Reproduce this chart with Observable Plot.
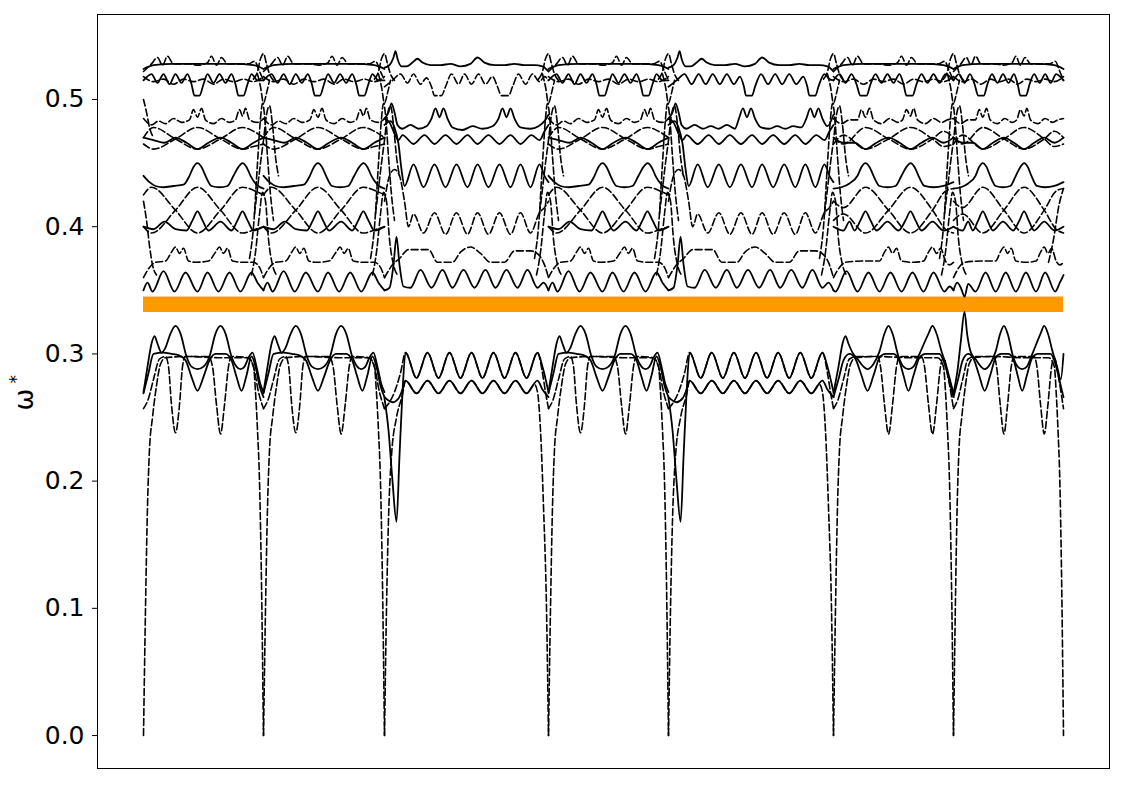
<!DOCTYPE html>
<html><head><meta charset="utf-8">
<script src="https://cdn.jsdelivr.net/npm/d3@7"></script>
<script src="https://cdn.jsdelivr.net/npm/@observablehq/plot@0.6"></script>
<style>body{margin:0;background:#fff}</style>
</head><body><div id="chart"></div>
<script>
// high-symmetry positions along the path (arbitrary path units)
const kPoints = [0, 120, 241, 405, 525, 690, 810, 920];
const segTemplates = ["A", "A", "C", "A", "E", "F", "G"];
const yTicks = [0, 0.1, 0.2, 0.3, 0.4, 0.5];
const orangeLevel = 0.339;

// ---- template A (segments 1, 2, 4), local path units 0..120 ----
const A_b0 = [[0,0],[2,0.1],[4,0.18],[6,0.225],[9,0.25],[13,0.275],[17,0.292],[22,0.297],[45,0.298],[75,0.297],[104,0.297],[110,0.29],[112,0.27],[114,0.24],[116,0.2],[118,0.12],[120,0]];
const A_b1 = [[0,0.257],[5,0.265],[10,0.28],[16,0.296],[22,0.298],[25,0.29],[28,0.26],[32,0.238],[36,0.26],[39,0.29],[42,0.298],[65,0.298],[69,0.29],[73,0.26],[77,0.237],[81,0.26],[85,0.29],[88,0.298],[105,0.297],[110,0.29],[115,0.27],[120,0.257]];
const A_b2 = [[0,0.269],[5,0.285],[10,0.3],[20,0.301],[28,0.3],[35,0.299],[42,0.295],[48,0.282],[54,0.271],[60,0.282],[66,0.295],[72,0.3],[82,0.3],[88,0.295],[93,0.282],[98,0.271],[103,0.283],[108,0.298],[112,0.29],[116,0.275],[120,0.266]];
const A_b3 = [[0,0.27],[4,0.29],[8,0.308],[11,0.314],[14,0.308],[18,0.301],[22,0.305],[27,0.316],[32,0.322],[37,0.316],[43,0.298],[48,0.29],[54,0.288],[60,0.29],[66,0.298],[72,0.316],[77,0.322],[82,0.316],[88,0.298],[93,0.29],[97,0.288],[101,0.29],[105,0.297],[109,0.301],[113,0.29],[117,0.276],[120,0.27]];
const A_b4 = [[0,0.35],[4,0.356],[9,0.349],[20,0.365],[31,0.349],[42,0.364],[54,0.349],[64,0.364],[75,0.349],[86,0.364],[97,0.349],[108,0.364],[114,0.356],[120,0.35]];
const A_b5 = [[0,0.36],[6,0.368],[12,0.372],[22,0.373],[28,0.38],[32,0.384],[36,0.379],[40,0.383],[45,0.373],[52,0.372],[65,0.373],[72,0.38],[76,0.384],[80,0.379],[84,0.383],[89,0.373],[100,0.372],[110,0.372],[116,0.368],[120,0.36]];
const A_b7 = [[0,0.4],[10,0.398],[21,0.404],[32,0.398],[43,0.397],[49,0.405],[54,0.412],[59,0.405],[65,0.397],[77,0.404],[88,0.397],[94,0.405],[99,0.412],[104,0.405],[110,0.397],[120,0.4]];
const A_b8a = [[0,0.425],[8,0.431],[32,0.413],[54,0.395],[77,0.413],[99,0.431],[112,0.428],[120,0.425]];
const A_b8b = [[0,0.4],[8,0.395],[32,0.413],[54,0.431],[77,0.413],[99,0.395],[112,0.398],[120,0.4]];
const A_b9 = [[0,0.44],[6,0.435],[12,0.432],[20,0.431],[30,0.432],[40,0.433],[46,0.44],[50,0.447],[54,0.45],[58,0.447],[62,0.44],[68,0.432],[76,0.431],[84,0.432],[90,0.44],[95,0.447],[99,0.45],[103,0.447],[107,0.44],[113,0.433],[120,0.43]];
const A_b10a = [[0,0.47],[10,0.478],[32,0.469],[54,0.461],[77,0.469],[99,0.478],[110,0.475],[120,0.47]];
const A_b10b = [[0,0.465],[10,0.461],[32,0.469],[54,0.478],[77,0.469],[99,0.461],[110,0.463],[120,0.465]];
const A_b11 = [[0,0.47],[10,0.468],[21,0.466],[32,0.47],[43,0.466],[54,0.461],[65,0.466],[77,0.47],[88,0.466],[99,0.461],[110,0.466],[120,0.47]];
const A_b12 = [[0,0.485],[8,0.48],[15,0.483],[22,0.481],[30,0.485],[38,0.482],[46,0.484],[50,0.492],[54,0.486],[58,0.493],[62,0.484],[70,0.481],[78,0.485],[86,0.482],[92,0.484],[96,0.492],[99,0.487],[102,0.493],[106,0.484],[114,0.482],[120,0.485]];
const A_b13 = [[0,0.515],[8,0.52],[14,0.513],[20,0.52],[26,0.512],[32,0.52],[38,0.513],[44,0.52],[48,0.512],[51,0.503],[56,0.503],[60,0.512],[64,0.52],[70,0.513],[76,0.52],[82,0.513],[88,0.52],[92,0.512],[95,0.503],[100,0.503],[104,0.512],[108,0.52],[114,0.515],[120,0.515]];
const A_b14 = [[0,0.518],[10,0.514],[20,0.516],[30,0.512],[40,0.516],[50,0.514],[60,0.516],[70,0.512],[80,0.516],[90,0.514],[100,0.516],[110,0.514],[120,0.518]];
const A_b15s = [[0,0.524],[10,0.527],[30,0.528],[50,0.528],[70,0.528],[90,0.528],[110,0.527],[120,0.524]];
const A_b15d = [[0,0.522],[8,0.528],[14,0.533],[19,0.527],[24,0.534],[30,0.528],[37,0.528],[45,0.528],[55,0.527],[64,0.529],[68,0.534],[73,0.527],[78,0.533],[84,0.528],[95,0.528],[105,0.528],[111,0.53],[116,0.522],[120,0.515]];

// ---- template C (segment 3) / E (segment 5), local units 0..164 ----
const C_b0 = [[0,0],[2,0.1],[4,0.17],[7,0.22],[12,0.25],[18,0.268],[21,0.279],[32,0.269],[43,0.279],[54,0.269],[65,0.279],[76,0.269],[87,0.279],[98,0.269],[109,0.279],[120,0.269],[131,0.279],[142,0.269],[150,0.276],[153,0.27],[156,0.24],[159,0.18],[162,0.1],[164,0]];
const C_b1 = [[0,0.257],[5,0.262],[10,0.27],[16,0.285],[21,0.301],[32,0.281],[43,0.301],[54,0.281],[65,0.301],[76,0.281],[87,0.301],[98,0.281],[109,0.301],[120,0.281],[131,0.301],[142,0.281],[153,0.301],[158,0.285],[161,0.27],[164,0.257]];
const C_b2 = [[0,0.266],[8,0.262],[14,0.265],[18,0.272],[21,0.279],[32,0.269],[43,0.279],[54,0.269],[65,0.279],[76,0.269],[87,0.279],[98,0.269],[109,0.279],[120,0.269],[131,0.279],[142,0.269],[153,0.279],[158,0.272],[164,0.266]];
const C_b3 = [[0,0.265],[4,0.24],[8,0.2],[12,0.168],[15,0.22],[18,0.27],[21,0.301],[32,0.281],[43,0.301],[54,0.281],[65,0.301],[76,0.281],[87,0.301],[98,0.281],[109,0.301],[120,0.281],[131,0.301],[142,0.281],[153,0.301],[158,0.29],[164,0.27]];
const C_b4 = [[0,0.35],[5,0.352],[9,0.37],[12,0.392],[15,0.37],[19,0.353],[26,0.352],[36,0.366],[47,0.352],[58,0.366],[68,0.352],[79,0.366],[90,0.352],[101,0.366],[111,0.352],[122,0.366],[133,0.352],[143,0.366],[153,0.352],[159,0.356],[164,0.35]];
const C_b5 = [[0,0.36],[8,0.37],[15,0.375],[24,0.382],[44,0.382],[53,0.372],[68,0.372],[76,0.38],[86,0.384],[96,0.379],[106,0.372],[120,0.372],[130,0.381],[146,0.381],[154,0.378],[160,0.37],[164,0.36]];
const C_b6 = [[0,0.42],[5,0.44],[10,0.445],[15,0.44],[20,0.42],[24,0.4],[29,0.41],[39,0.395],[50,0.411],[61,0.394],[72,0.411],[83,0.394],[93,0.411],[104,0.394],[115,0.411],[126,0.394],[136,0.411],[146,0.395],[155,0.411],[160,0.415],[164,0.42]];
const C_b9 = [[0,0.48],[6,0.483],[10,0.478],[14,0.465],[17,0.445],[20,0.432],[29,0.449],[39,0.431],[50,0.449],[61,0.431],[72,0.449],[83,0.431],[93,0.449],[104,0.431],[115,0.449],[126,0.431],[136,0.449],[146,0.431],[155,0.449],[160,0.44],[164,0.435]];
const C_b11 = [[0,0.485],[5,0.482],[9,0.475],[14,0.468],[18,0.472],[29,0.465],[40,0.472],[50,0.465],[61,0.472],[72,0.465],[83,0.472],[93,0.465],[104,0.472],[115,0.465],[126,0.472],[136,0.465],[147,0.472],[155,0.468],[160,0.475],[164,0.48]];
const C_b12 = [[0,0.485],[4,0.49],[7,0.497],[10,0.49],[13,0.48],[18,0.477],[26,0.48],[34,0.477],[42,0.479],[47,0.485],[51,0.493],[55,0.486],[59,0.493],[63,0.485],[68,0.478],[78,0.476],[88,0.479],[98,0.477],[108,0.479],[114,0.485],[118,0.493],[122,0.486],[126,0.493],[130,0.485],[136,0.478],[146,0.477],[154,0.479],[160,0.483],[164,0.488]];
const C_b13 = [[0,0.51],[8,0.515],[16,0.52],[23,0.513],[29,0.52],[36,0.512],[42,0.517],[47,0.51],[50,0.503],[57,0.503],[61,0.51],[67,0.52],[74,0.512],[80,0.52],[87,0.512],[94,0.52],[101,0.512],[108,0.518],[113,0.51],[117,0.503],[124,0.503],[128,0.51],[134,0.52],[141,0.512],[148,0.52],[155,0.514],[160,0.518],[164,0.515]];
const C_b15 = [[0,0.525],[5,0.527],[9,0.533],[11,0.538],[13,0.532],[17,0.526],[22,0.526],[28,0.529],[33,0.532],[38,0.529],[46,0.527],[56,0.527],[66,0.528],[76,0.526],[86,0.528],[93,0.533],[100,0.529],[110,0.527],[120,0.527],[130,0.528],[140,0.527],[150,0.527],[158,0.526],[164,0.522]];
const E_b12 = [[0,0.485],[4,0.49],[7,0.497],[10,0.49],[13,0.48],[18,0.477],[26,0.48],[34,0.477],[42,0.479],[50,0.477],[58,0.48],[66,0.477],[70,0.485],[74,0.493],[78,0.486],[82,0.493],[86,0.485],[92,0.478],[100,0.477],[108,0.479],[116,0.477],[124,0.479],[132,0.478],[137,0.485],[141,0.493],[145,0.486],[149,0.493],[153,0.485],[158,0.479],[164,0.488]];
const E_b13 = [[0,0.51],[8,0.515],[16,0.52],[23,0.512],[30,0.52],[37,0.512],[44,0.52],[51,0.512],[58,0.52],[65,0.512],[71,0.518],[75,0.51],[77,0.503],[83,0.503],[86,0.51],[92,0.52],[99,0.512],[106,0.52],[113,0.512],[120,0.52],[127,0.512],[134,0.518],[138,0.51],[140,0.503],[146,0.503],[149,0.51],[155,0.52],[160,0.516],[164,0.515]];

// ---- template F (segments 6, 7), local units 0..120 ----
const F_b1 = [[0,0.257],[5,0.265],[10,0.28],[16,0.296],[24,0.298],[44,0.298],[47,0.29],[51,0.26],[55,0.237],[59,0.26],[63,0.29],[66,0.298],[88,0.298],[91,0.29],[95,0.26],[99,0.237],[103,0.26],[107,0.29],[110,0.297],[115,0.28],[120,0.257]];
const F_b2 = [[0,0.266],[5,0.28],[10,0.295],[16,0.3],[22,0.296],[28,0.283],[34,0.271],[40,0.283],[46,0.297],[52,0.3],[60,0.3],[66,0.294],[70,0.283],[75,0.271],[80,0.283],[86,0.297],[92,0.3],[106,0.3],[112,0.29],[117,0.275],[120,0.266]];
const F_b3 = [[0,0.269],[5,0.29],[9,0.308],[12,0.314],[15,0.308],[19,0.301],[24,0.296],[30,0.29],[34,0.288],[40,0.292],[46,0.302],[51,0.316],[55,0.322],[59,0.316],[65,0.298],[70,0.29],[75,0.288],[80,0.29],[86,0.3],[95,0.316],[99,0.322],[103,0.316],[108,0.302],[113,0.29],[117,0.278],[120,0.269]];
const G_b3 = [[0,0.269],[4,0.285],[8,0.31],[12,0.333],[15,0.315],[19,0.301],[24,0.296],[30,0.29],[34,0.288],[40,0.292],[46,0.302],[51,0.316],[55,0.322],[59,0.316],[65,0.298],[70,0.29],[75,0.288],[80,0.29],[86,0.3],[95,0.316],[99,0.322],[103,0.316],[108,0.302],[113,0.29],[117,0.28],[120,0.3]];
const F_b4 = [[0,0.35],[2,0.349],[13,0.365],[24,0.349],[35,0.364],[46,0.349],[57,0.364],[68,0.349],[79,0.364],[90,0.349],[100,0.364],[111,0.349],[116,0.353],[120,0.35]];
const G_b4 = [[0,0.35],[4,0.356],[8,0.352],[12,0.345],[16,0.355],[24,0.349],[35,0.364],[46,0.349],[57,0.364],[68,0.349],[79,0.364],[90,0.349],[100,0.364],[111,0.349],[116,0.356],[120,0.362]];
const F_b5 = [[0,0.36],[6,0.368],[12,0.372],[30,0.373],[46,0.373],[51,0.38],[55,0.384],[59,0.379],[63,0.383],[68,0.373],[80,0.372],[90,0.373],[95,0.38],[99,0.384],[103,0.379],[107,0.383],[112,0.373],[116,0.37],[120,0.372]];
const F_b7 = [[0,0.4],[10,0.397],[16,0.404],[21,0.397],[27,0.405],[32,0.412],[37,0.405],[43,0.397],[54,0.404],[65,0.397],[72,0.405],[77,0.412],[82,0.405],[88,0.397],[99,0.404],[110,0.397],[120,0.4]];
const F_b8a = [[0,0.42],[10,0.415],[32,0.431],[55,0.413],[77,0.395],[99,0.413],[112,0.428],[120,0.43]];
const F_b8b = [[0,0.405],[10,0.41],[32,0.395],[55,0.413],[77,0.431],[99,0.413],[112,0.398],[120,0.395]];
const F_b9 = [[0,0.43],[8,0.431],[16,0.434],[24,0.44],[28,0.447],[32,0.45],[36,0.447],[40,0.44],[46,0.432],[54,0.431],[62,0.432],[68,0.44],[73,0.447],[77,0.45],[81,0.447],[85,0.44],[91,0.432],[100,0.431],[110,0.432],[120,0.435]];
const F_b10a = [[0,0.47],[10,0.465],[32,0.478],[55,0.469],[77,0.461],[99,0.469],[110,0.475],[120,0.47]];
const F_b10b = [[0,0.465],[10,0.472],[32,0.461],[55,0.469],[77,0.478],[99,0.469],[110,0.463],[120,0.465]];
const F_b11 = [[0,0.47],[10,0.466],[21,0.466],[32,0.461],[43,0.466],[55,0.47],[66,0.466],[77,0.461],[88,0.466],[99,0.47],[110,0.466],[120,0.47]];
const F_b12 = [[0,0.485],[8,0.481],[16,0.484],[24,0.484],[28,0.492],[32,0.486],[36,0.493],[40,0.484],[48,0.481],[56,0.485],[64,0.482],[69,0.484],[73,0.492],[77,0.487],[80,0.493],[84,0.484],[92,0.481],[100,0.485],[108,0.482],[114,0.484],[120,0.485]];
const F_b13 = [[0,0.515],[6,0.52],[12,0.513],[18,0.52],[23,0.512],[27,0.503],[33,0.503],[37,0.512],[42,0.52],[48,0.513],[54,0.52],[60,0.513],[66,0.52],[70,0.512],[73,0.503],[79,0.503],[83,0.512],[88,0.52],[94,0.513],[100,0.52],[106,0.513],[112,0.52],[120,0.515]];

// ---- steep crossings next to each inner high-symmetry point (offsets in path units) ----
const SP1 = [[-14,0.375],[-10,0.4],[-6,0.45],[-3,0.485],[-1,0.497],[1,0.488],[4,0.455],[7,0.425],[10,0.405]];
const SP2 = [[-9,0.41],[-6,0.43],[-3,0.45],[0,0.468],[3,0.488],[6,0.495],[9,0.48],[12,0.455],[15,0.44]];
const SP3 = [[-12,0.362],[-8,0.38],[-4,0.41],[-1,0.427],[2,0.42],[5,0.39],[9,0.37],[13,0.362]];
const SP5 = [[-10,0.516],[-6,0.522],[-3,0.532],[0,0.536],[3,0.528],[6,0.52],[10,0.515]];
const SP6 = [[-6,0.52],[-3,0.51],[0,0.497],[3,0.505],[6,0.515]];
// steep lines at the two ends of the path
const EDGE_L1 = [[0,0.42],[3,0.405],[6,0.385],[9,0.37],[13,0.362]];
const EDGE_L2 = [[0,0.5],[3,0.49],[6,0.478],[10,0.47]];
const EDGE_R1 = [[905,0.372],[910,0.39],[915,0.415],[920,0.43]];

// line lists: [points, dashed?]
const templates = {
  A: {width: 120, lines: [[A_b0,1],[A_b1,1],[A_b2,0],[A_b3,0],[A_b4,0],[A_b5,1],[A_b7,0],[A_b8a,1],[A_b8b,1],[A_b9,0],[A_b10a,1],[A_b10b,1],[A_b11,0],[A_b12,1],[A_b13,0],[A_b14,1],[A_b15s,0],[A_b15d,1]]},
  C: {width: 164, lines: [[C_b2,0],[C_b3,0],[C_b0,1],[C_b1,1],[C_b4,0],[C_b5,1],[C_b6,1],[C_b9,0],[C_b11,0],[C_b12,0],[C_b13,1],[C_b15,0]]},
  E: {width: 164, lines: [[C_b2,0],[C_b3,0],[C_b0,1],[C_b1,1],[C_b4,0],[C_b5,1],[C_b6,1],[C_b9,0],[C_b11,0],[E_b12,0],[E_b13,0],[C_b15,0]]},
  F: {width: 120, lines: [[A_b0,1],[F_b1,1],[F_b2,0],[F_b3,0],[F_b4,0],[F_b5,1],[F_b7,0],[F_b8a,1],[F_b8b,1],[F_b9,0],[F_b10a,1],[F_b10b,1],[F_b11,0],[F_b12,1],[F_b13,0],[A_b14,1],[A_b15s,0],[A_b15d,1]]},
  G: {width: 120, lines: [[A_b0,1],[F_b1,1],[F_b2,0],[G_b3,0],[G_b4,0],[F_b5,1],[F_b7,0],[F_b8a,1],[F_b8b,1],[F_b9,0],[F_b10a,1],[F_b10b,1],[F_b11,0],[F_b12,1],[F_b13,0],[A_b14,1],[A_b15s,0],[A_b15d,1]]}
};
const spikes = [[SP1,1],[SP2,1],[SP3,1],[SP5,1],[SP6,1]];
const edges = [[EDGE_L1,1],[EDGE_L2,1],[EDGE_R1,1]];

const rows = [];
segTemplates.forEach((name, si) => {
  const tpl = templates[name];
  const k0 = kPoints[si], w = kPoints[si + 1] - kPoints[si];
  tpl.lines.forEach(([pts, dash], li) => {
    pts.forEach(([t, v]) => rows.push({k: k0 + t * w / tpl.width, v, id: `s${si}l${li}`, dash}));
  });
});
kPoints.slice(1, -1).forEach((kb, bi) => {
  spikes.forEach(([pts, dash], pi) => {
    pts.forEach(([dt, v]) => rows.push({k: kb + dt, v, id: `b${bi}p${pi}`, dash}));
  });
});
edges.forEach(([pts, dash], ei) => {
  pts.forEach(([k, v]) => rows.push({k, v, id: `e${ei}`, dash}));
});

const chart = Plot.plot({
  width: 1125, height: 785,
  marginLeft: 97, marginRight: 16, marginTop: 14, marginBottom: 17,
  x: {domain: [-46, 966], axis: null},
  y: {domain: [-0.0259, 0.5668], axis: null},
  style: {fontFamily: "DejaVu Sans, sans-serif", fontSize: "25px", color: "black", background: "white"},
  marks: [
    Plot.ruleY([{v: orangeLevel, a: kPoints[0], b: kPoints[kPoints.length - 1]}], {y: "v", x1: "a", x2: "b", stroke: "#ff9900", strokeWidth: 15.5}),
    Plot.line(rows.filter(d => !d.dash), {x: "k", y: "v", z: "id", curve: "monotone-x", stroke: "black", strokeWidth: 1.8}),
    Plot.line(rows.filter(d => d.dash), {x: "k", y: "v", z: "id", curve: "monotone-x", stroke: "black", strokeWidth: 1.6, strokeDasharray: "7,3"}),
    Plot.axisY(yTicks, {tickFormat: d => d.toFixed(1), tickSize: 5, tickPadding: 8, label: null, fontSize: 25}),
    Plot.frame({stroke: "black", strokeWidth: 1}),
    Plot.text(["ω"], {text: d => d, frameAnchor: "left", dx: -73, dy: 19, rotate: -90, fontSize: 26}),
    Plot.text(["*"], {text: d => d, frameAnchor: "left", dx: -81, dy: -8, rotate: -90, fontSize: 17})
  ]
});
document.getElementById("chart").appendChild(chart);
</script>
</body></html>
